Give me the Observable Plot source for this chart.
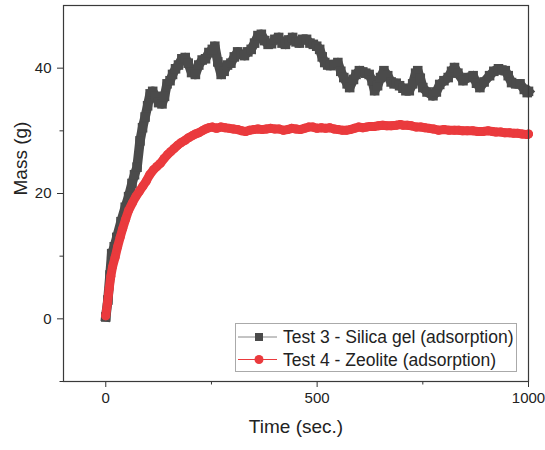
<!DOCTYPE html>
<html>
<head>
<meta charset="utf-8">
<script src="https://cdn.jsdelivr.net/npm/d3@7"></script>
<script src="https://cdn.jsdelivr.net/npm/@observablehq/plot@0.6"></script>
<style>
  html, body { margin: 0; padding: 0; background: #fff; }
  #wrap { position: relative; width: 545px; height: 450px; font-family: "Liberation Sans", Arial, sans-serif; }
  #legend { position: absolute; left: 235px; top: 323px; }
</style>
</head>
<body>
<div id="wrap"></div>
<script>
// ---- Data ----
const silicaName = "Test 3 - Silica gel (adsorption)";
const zeoliteName = "Test 4 - Zeolite (adsorption)";

const silicaTime = [0,5,10,14,20,26,36,46,54,62,68,74,81,87,93,99,105,111,118,125,133,139,145,152,158,165,172,180,188,195,203,212,220,228,236,244,252,258,265,273,280,288,296,304,312,320,328,336,344,352,360,368,376,384,392,400,409,417,425,433,442,450,458,466,475,483,491,499,506,512,518,525,532,540,549,556,563,571,577,586,592,600,608,615,623,630,636,643,650,658,667,675,682,687,695,703,710,718,726,733,738,744,750,760,774,782,790,800,810,818,825,833,845,857,869,877,885,895,908,918,929,937,945,952,960,970,980,990,997,1000];
const silicaMass = [0.3,3,7,10.4,11.5,13,15.5,17.8,19.5,21.6,23,24.2,28.4,30.5,32.2,34,35.9,36.3,35.5,34.5,34.3,35.5,37.5,38,39,39.9,40.5,41.5,41.7,40.8,39.3,39,40.5,41.3,41.5,42.5,43,43.5,41,39,39.5,40.5,40.8,41.8,42.6,42.2,42,42.6,43,44,45.2,45.4,44.4,43.8,43.9,44.6,44.9,44,43.8,44.5,44.9,44.2,44,44.6,44.6,44,43.8,43.5,43,41.8,40.9,40.5,40.4,40.6,40.9,39.5,38.5,37.5,36.9,38.2,39,39.6,39.4,39.2,39,38,36.4,37.2,38.5,39.6,38.8,37.8,37.5,37.6,37.2,36.8,36.4,36.4,37.5,39.2,39.6,38.4,36.9,36.2,35.6,36.2,37.4,38,38.5,39.5,40.1,39.2,38,38.5,38.8,37.6,36.9,37.8,38.8,39.5,39.9,39.7,39.6,38.8,37.7,37.5,37.5,36.6,36.1,36.3];

const zeoliteTime = [0,4,8,12,16,22,28,34,40,47,54,63,71,80,88,96,104,113,121,129,138,146,154,162,170,178,188,196,204,212,220,228,236,244,252,262,272,282,292,302,312,322,331,340,350,360,370,380,390,400,410,420,430,440,450,460,470,480,490,500,510,520,530,540,550,560,569,578,588,598,608,617,625,635,645,655,665,675,687,697,703,713,723,735,745,755,765,775,787,800,812,825,835,844,855,868,880,892,905,915,923,935,944,955,965,975,985,997,1000];
const zeoliteMass = [0.5,2.5,4.8,6.8,8.3,9.8,11.5,13,14.4,15.9,17.3,18.5,19.5,20.4,21.2,22,23,23.8,24.3,24.8,25.6,26.2,26.7,27.2,27.7,28.1,28.5,28.9,29.2,29.5,29.7,30,30.3,30.5,30.6,30.4,30.6,30.5,30.4,30.3,30.2,30,29.9,30.1,30.2,30.3,30.2,30.3,30.4,30.3,30.3,30.1,30.2,30.4,30.3,30.2,30.4,30.6,30.6,30.4,30.5,30.4,30.5,30.3,30.2,30.1,30.1,30.2,30.4,30.6,30.5,30.6,30.7,30.7,30.8,30.9,30.8,30.8,30.9,31,30.9,30.9,30.8,30.6,30.6,30.5,30.4,30.3,30.1,30.2,30.1,30.1,30.1,30,30,30,29.9,29.9,30,29.9,29.8,29.8,29.7,29.7,29.6,29.6,29.5,29.4,29.5];

const xTicks = [0, 500, 1000];
const xMinorTicks = [250, 750];
const yTicks = [0, 20, 40];
const yMinorTicks = [-10, 10, 30];
const xLabel = "Time (sec.)";
const yLabel = "Mass (g)";

const grayColor = "#4b4b4b";
const redColor = "#ea3a3d";

const silica = silicaTime.map((t, i) => ({t, m: silicaMass[i]}));
const zeolite = zeoliteTime.map((t, i) => ({t, m: zeoliteMass[i]}));

const chart = Plot.plot({
  width: 545,
  height: 450,
  marginTop: 5,
  marginRight: 17,
  marginBottom: 69,
  marginLeft: 63,
  style: {fontFamily: "'Liberation Sans', Arial, sans-serif", background: "#fff", color: "#222"},
  x: {domain: [-100, 1000]},
  y: {domain: [-10, 50]},
  marks: [
    Plot.axisX(xTicks, {tickSize: 6, tickPadding: 5, fontSize: 15, tickFormat: "d", label: null, stroke: "#333"}),
    Plot.axisX(xMinorTicks, {tickSize: 3.5, text: null, label: null, stroke: "#333"}),
    Plot.axisY(yTicks, {tickSize: 6, tickPadding: 6, fontSize: 15, tickFormat: "d", label: null, stroke: "#333"}),
    Plot.axisY(yMinorTicks, {tickSize: 3.5, text: null, label: null, stroke: "#333"}),
    Plot.text([xLabel], {frameAnchor: "bottom", dy: 51, text: d => d, fontSize: 19, fill: "#222"}),
    Plot.text([yLabel], {frameAnchor: "left", dx: -43, dy: 2, rotate: -90, text: d => d, fontSize: 19, fill: "#222"}),
    Plot.line(silica, {x: "t", y: "m", stroke: grayColor, strokeWidth: 9.5, strokeLinejoin: "round", strokeLinecap: "square"}),
    Plot.dot(silica, {x: "t", y: "m", symbol: "square", r: 5.4, fill: grayColor}),
    Plot.line(zeolite, {x: "t", y: "m", stroke: redColor, strokeWidth: 9, strokeLinejoin: "round", strokeLinecap: "round"}),
    Plot.dot(zeolite, {x: "t", y: "m", symbol: "circle", r: 4.5, fill: redColor}),
    Plot.frame({stroke: "#3a3a3a", strokeWidth: 1.2})
  ]
});
const wrap = document.getElementById("wrap");
wrap.appendChild(chart);

// Legend (inside the plot frame, drawn as HTML/SVG overlay)
const legend = document.createElement("div");
legend.id = "legend";
legend.innerHTML = `
<svg width="283" height="50" xmlns="http://www.w3.org/2000/svg" style="display:block">
  <rect x="0.5" y="0.5" width="281" height="48" fill="#fff" stroke="#aaa" stroke-width="1"/>
  <line x1="3" x2="42" y1="14" y2="14" stroke="#888" stroke-width="1"/>
  <rect x="20" y="10" width="8" height="8" fill="${grayColor}"/>
  <text x="48" y="14" dy="0.36em" font-size="17.5" fill="#222" font-family="'Liberation Sans', Arial, sans-serif">${silicaName}</text>
  <line x1="3" x2="42" y1="36.5" y2="36.5" stroke="${redColor}" stroke-width="1"/>
  <circle cx="24" cy="36.5" r="4.5" fill="${redColor}"/>
  <text x="48" y="36.5" dy="0.36em" font-size="17.5" fill="#222" font-family="'Liberation Sans', Arial, sans-serif">${zeoliteName}</text>
</svg>`;
wrap.appendChild(legend);
</script>
</body>
</html>
